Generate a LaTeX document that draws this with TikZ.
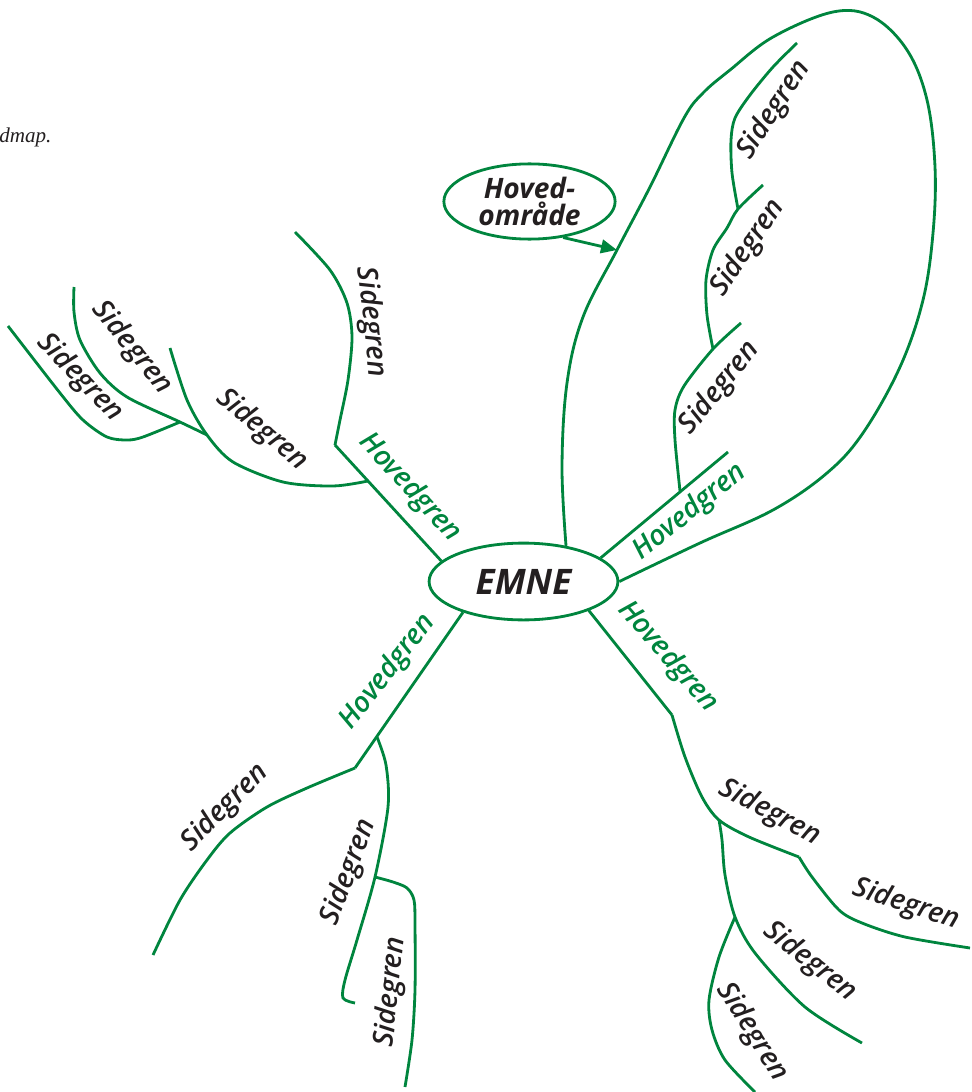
\documentclass[tikz,border=0pt]{standalone}
\usepackage{fontspec}
\newfontfamily\mapfont{Open Sans}
\IfFontExistsTF{Open Sans SemiBold Italic}
  {\newfontfamily\twigfont{Open Sans SemiBold Italic}}
  {\IfFontExistsTF{Open Sans Semibold Italic}
     {\newfontfamily\twigfont{Open Sans Semibold Italic}}
     {\newfontfamily\twigfont{Open Sans}[FakeBold=2, FakeSlant=0.2]}}
\newfontfamily\captfont{Liberation Serif}
\usetikzlibrary{shapes.geometric, arrows.meta}
\definecolor{mapgreen}{RGB}{0,133,62}
\definecolor{mapink}{RGB}{35,31,32}

\begin{document}
\begin{tikzpicture}[
        x=0.0125cm, y=-0.0125cm,
        >={Triangle[length=2mm, width=1.7mm]},
        branch/.style={draw=mapgreen, line width=1pt},
        topic/.style={ellipse, draw=mapgreen, line width=1pt, inner sep=0pt, text=mapink},
        twig/.style={font=\twigfont\fontsize{10}{12}\selectfont, text=mapink, inner sep=0pt},
        mainlbl/.style={twig, text=mapgreen}
    ]
        \useasboundingbox (0,0) rectangle (972,1092);

        % Caption fragment
        \node[anchor=base east, inner sep=0pt, text=mapink, font=\captfont\itshape\fontsize{7.5}{9}\selectfont] (capt) at (52,142) {dmap.};

        % Centre and main area
        \node[topic, minimum width=2.36cm, minimum height=0.96cm, font=\mapfont\bfseries\itshape\fontsize{12.5}{14}\selectfont] (emne) at (523.5,581.5) {EMNE};
        \node[topic, minimum width=2.14cm, minimum height=0.94cm, align=center, font=\mapfont\bfseries\itshape\fontsize{10}{9.5}\selectfont] (omr) at (529.5,201.5) {Hoved-\\område};

        % Loop round the main area
        \coordinate (tip) at (617,250);
        \draw[branch] plot[smooth, tension=0.6] coordinates {(emne.40) (562,467) (567,383) (583,317) (tip) (650,187) (684,118) (703,93) (730,70) (773,37) (833,12) (873,17) (907,50) (927,100) (935,167) (933,233) (923,300) (900,367) (863,433) (827,473) (773,510) (700,543) (emne.0)};
        \draw[->, draw=mapgreen, line width=1pt] (omr.-47) -- (tip);

        % Upper left branch
        \coordinate (ul) at (335,445);
        \coordinate (ulj) at (368,481);
        \coordinate (ulb) at (207,435);
        \coordinate (ulc) at (180,422);
        \draw[branch] (emne.166) -- (ul);
        \draw[branch] plot[smooth] coordinates {(ul) (340,420) (348,380) (352,337) (347,303) (330,270) (295,232)};
        \draw[branch] plot[smooth] coordinates {(ulj) (333,486) (283,482) (233,462) (ulb) (187,400) (170,348)};
        \draw[branch] plot[smooth] coordinates {(ulb) (ulc) (127,397) (100,373) (80,340) (74,312) (74,287)};
        \draw[branch] plot[smooth] coordinates {(ulc) (143,437) (127,440) (107,437) (83,420) (60,393) (8,326)};
        \node[mainlbl, rotate=-47] (ulh) at (410,488) {Hovedgren};
        \node[twig, rotate=-84] (ula) at (371,322) {Sidegren};
        \node[twig, rotate=-40] (ulbl) at (262,430) {Sidegren};
        \node[twig, rotate=-51] (ulcl) at (132,348) {Sidegren};
        \node[twig, rotate=-46] (uldl) at (80,378) {Sidegren};

        % Branch inside the loop
        \coordinate (lh) at (728,452);
        \coordinate (s1) at (680,491);
        \coordinate (s2) at (713,349);
        \coordinate (s3) at (738,209);
        \draw[branch] (emne.17) -- (lh);
        \draw[branch] plot[smooth] coordinates {(s1) (675,440) (675,410) (684,386) (s2) (741,323)};
        \draw[branch] plot[smooth] coordinates {(s2) (707,315) (706,280) (713,250) (727,228) (s3) (763,185)};
        \draw[branch] plot[smooth] coordinates {(s3) (732,173) (731,140) (735,118) (750,95) (773,67) (797,43)};
        \node[mainlbl, rotate=39] (lhl) at (690,512) {Hovedgren};
        \node[twig, rotate=51] (s1l) at (720,388) {Sidegren};
        \node[twig, rotate=56] (s2l) at (748,248) {Sidegren};
        \node[twig, rotate=57] (s3l) at (774,110) {Sidegren};

        % Lower left branch
        \coordinate (ll) at (355,768);
        \coordinate (llj) at (377,737);
        \coordinate (llk) at (375,877);
        \draw[branch] (emne.-153) -- (ll);
        \draw[branch] plot[smooth] coordinates {(ll) (307,788) (267,807) (230,833) (207,860) (180,900) (153,955)};
        \draw[branch] plot[smooth] coordinates {(llj) (386,765) (388,807) (llk) (357,940) (345,980) (343,998) (355,1003)};
        \draw[branch] plot[smooth] coordinates {(llk) (393,882) (407,888) (414,900) (415,925) (415,990) (412,1040) (405,1087)};
        \node[mainlbl, rotate=52] (llh) at (388,672) {Hovedgren};
        \node[twig, rotate=45] (llal) at (225,808) {Sidegren};
        \node[twig, rotate=70] (llbl) at (349,872) {Sidegren};
        \node[twig, rotate=84] (llcl) at (391,992) {Sidegren};

        % Lower right branch
        \coordinate (lr) at (672,715);
        \coordinate (lrj) at (719,820);
        \coordinate (lrk) at (799,857);
        \coordinate (lrm) at (735,917);
        \draw[branch] (emne.-24) -- (lr);
        \draw[branch] plot[smooth] coordinates {(lr) (685,757) (702,797) (lrj) (749,837) (lrk)};
        \draw[branch] plot[smooth] coordinates {(lrk) (812,877) (839,910) (862,923) (905,937) (970,948)};
        \draw[branch] plot[smooth] coordinates {(lrj) (722,840) (725,875) (lrm) (755,953) (805,1007) (862,1043)};
        \draw[branch] plot[smooth] coordinates {(lrm) (719,957) (709,1000) (712,1030) (725,1060) (755,1092)};
        \node[mainlbl, rotate=-49] (lrh) at (668,657) {Hovedgren};
        \node[twig, rotate=-28] (lral) at (770,813) {Sidegren};
        \node[twig, rotate=-18] (lrbl) at (906,905) {Sidegren};
        \node[twig, rotate=-38] (lrcl) at (810,962) {Sidegren};
        \node[twig, rotate=-58] (lrdl) at (752,1032) {Sidegren};
\end{tikzpicture}
\end{document}
